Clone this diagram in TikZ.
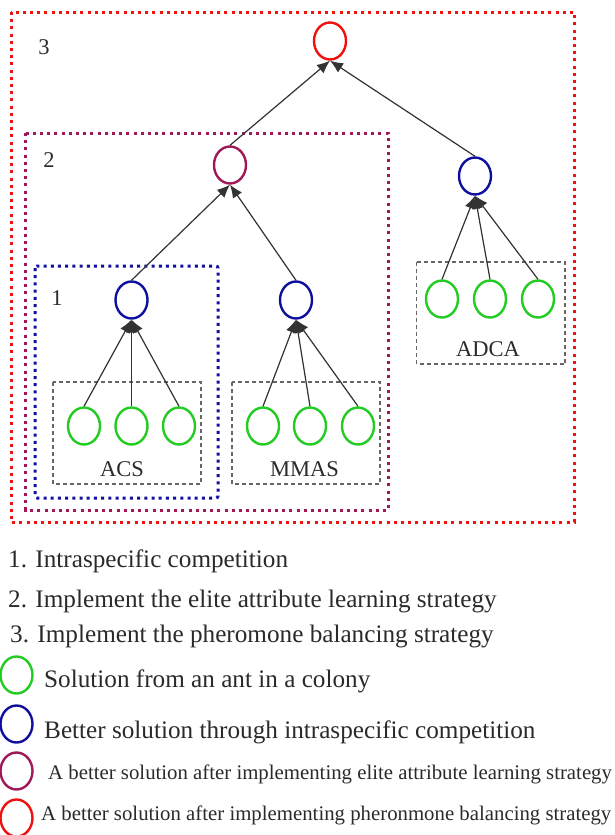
\documentclass[tikz,border=0pt]{standalone}
\usepackage{fontspec}
\setmainfont{Liberation Serif}
\usepackage{xcolor}
\usetikzlibrary{arrows.meta,shapes.geometric}

\definecolor{antgreen}{HTML}{22CC22}
\definecolor{innerblue}{HTML}{1010A0}
\definecolor{elitepurple}{HTML}{A01858}
\definecolor{pherored}{HTML}{F01010}
\definecolor{arrowgray}{HTML}{333333}
\definecolor{boxgray}{HTML}{666666}
\definecolor{textgray}{HTML}{2A2A2A}

\begin{document}
\begin{tikzpicture}[
    x=1pt, y=-1pt,
    sol/.style={ellipse, draw, line width=2.4pt, minimum width=32pt, minimum height=37pt, inner sep=0pt},
    ant/.style={sol, draw=antgreen},
    inner/.style={sol, draw=innerblue},
    elite/.style={sol, draw=elitepurple},
    phero/.style={sol, draw=pherored},
    arrow/.style={-{Latex[length=13pt,width=11pt]}, line width=1.2pt, draw=arrowgray, fill=arrowgray},
    stage/.style={line width=3pt, dash pattern=on 3pt off 4.2pt},
    colony/.style={draw=boxgray, line width=1.3pt, dash pattern=on 4pt off 3pt},
    lbl/.style={font=\fontsize{22.5}{24}\selectfont, text=textgray, inner sep=0pt},
    legend/.style={font=\fontsize{25.2}{27}\selectfont, text=textgray, anchor=west, inner sep=0pt},
    legendsm/.style={legend, font=\fontsize{20.8}{23}\selectfont}
]
\useasboundingbox (0,0) rectangle (615,835);

% stage frames
\draw[stage, draw=pherored] (11,12) rectangle (574,522);
\draw[stage, draw=elitepurple] (25.5,133) rectangle (388,510);
\draw[stage, draw=innerblue, rounded corners=2pt] (35,266) rectangle (218,498);
\draw[colony] (53,382) rectangle (201,484);
\draw[colony] (232,382) rectangle (380,484);
\draw[colony] (416.5,262) rectangle (565,364);

\node[lbl] (n3) at (44,47) {3};
\node[lbl] (n2) at (49,160) {2};
\node[lbl] (n1) at (57,298) {1};
\node[lbl] (acs) at (122,469) {ACS};
\node[lbl] (mmas) at (304.5,469) {MMAS};
\node[lbl] (adca) at (488,349) {ADCA};

% solutions
\node[phero] (best) at (330,41) {};
\node[elite] (elite) at (230,165) {};
\node[inner] (adcabest) at (475,176) {};
\node[inner] (acsbest) at (131.5,300) {};
\node[inner] (mmasbest) at (296,300) {};

\node[ant] (acs1) at (84,426) {};
\node[ant] (acs2) at (131.5,426) {};
\node[ant] (acs3) at (179,426) {};
\node[ant] (mmas1) at (263,426) {};
\node[ant] (mmas2) at (310,426) {};
\node[ant] (mmas3) at (358,426) {};
\node[ant] (adca1) at (442,299) {};
\node[ant] (adca2) at (490,299) {};
\node[ant] (adca3) at (538,299) {};

\draw[arrow] (elite.north) -- (best.south);
\draw[arrow] (adcabest.north) -- (best.south);
\draw[arrow] (acsbest.north) -- (elite.south);
\draw[arrow] (mmasbest.north) -- (elite.south);
\draw[arrow] (acs1.north) -- (acsbest.south);
\draw[arrow] (acs2.north) -- (acsbest.south);
\draw[arrow] (acs3.north) -- (acsbest.south);
\draw[arrow] (mmas1.north) -- (mmasbest.south);
\draw[arrow] (mmas2.north) -- (mmasbest.south);
\draw[arrow] (mmas3.north) -- (mmasbest.south);
\draw[arrow] (adca1.north) -- (adcabest.south);
\draw[arrow] (adca2.north) -- (adcabest.south);
\draw[arrow] (adca3.north) -- (adcabest.south);

% legend
\node[legend] (step1) at (8,561) {1. Intraspecific competition};
\node[legend] (step2) at (8,601) {2. Implement the elite attribute learning strategy};
\node[legend] (step3) at (10,636) {3. Implement the pheromone balancing strategy};
\node[ant] (keyant) at (16.5,675) {};
\node[legend] (txtant) at (44,681) {Solution from an ant in a colony};
\node[inner] (keyinner) at (16.5,724) {};
\node[legend] (txtinner) at (44,732) {Better solution through intraspecific competition};
\node[elite] (keyelite) at (16.5,771) {};
\node[legendsm] (txtelite) at (48,774) {A better solution after implementing elite attribute learning strategy};
\node[phero] (keyphero) at (16.5,818) {};
\node[legendsm] (txtphero) at (41,815) {A better solution after implementing pheronmone balancing strategy};
\end{tikzpicture}
\end{document}
